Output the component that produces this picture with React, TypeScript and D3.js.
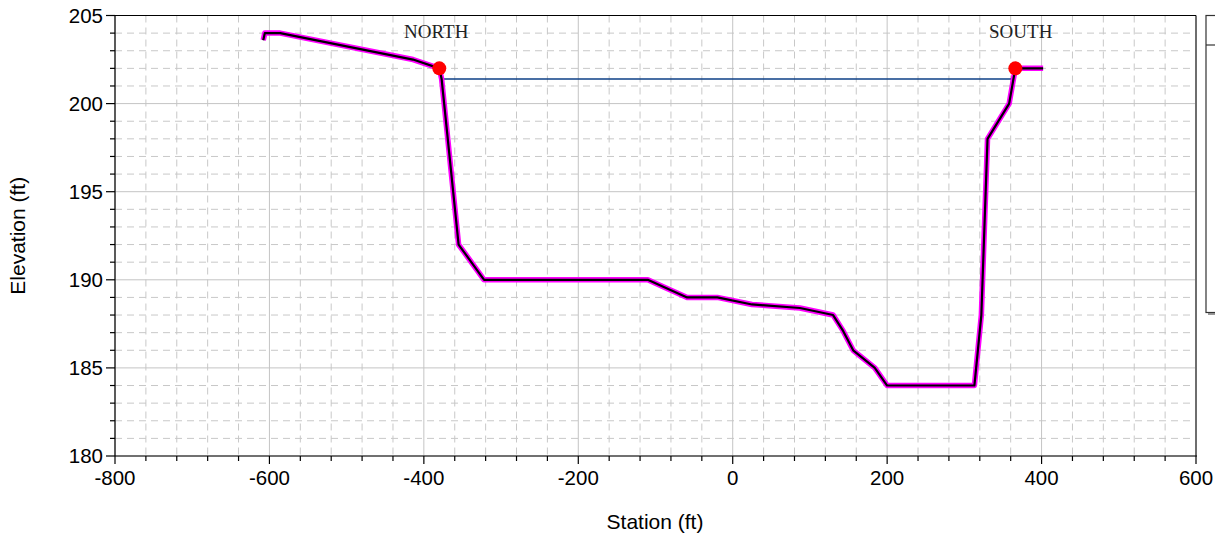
import React from "react";
import * as d3 from "d3";

const stations = [-608, -606, -586, -414, -380, -377, -355, -322, -110, -90, -59, -20, 25, 87, 130, 143, 156, 184, 200, 313, 322, 330, 358, 366, 402];
const elevations = [203.6, 204, 204, 202.5, 202, 201.4, 192, 190, 190, 189.6, 189, 189, 188.6, 188.4, 188, 187.1, 186, 185, 184, 184, 188, 198, 200, 202, 202];

const bankStations = [-380, 366];
const bankElevations = [202, 202];
const bankLabels = ["NORTH", "SOUTH"];
const labelStations = [-384, 373];
const labelElevation = 203.72;

const waterStations = [-378, 364];
const waterElevation = 201.4;

const xTicks = [-800, -600, -400, -200, 0, 200, 400, 600];
const yTicks = [180, 185, 190, 195, 200, 205];

const W = 1215, H = 533;
const L = 115, R = 1196, T = 15.5, B = 456;

export default function App() {
  const x = d3.scaleLinear().domain([-800, 600]).range([L, R]);
  const y = d3.scaleLinear().domain([180, 205]).range([B, T]);
  const xMinor = d3.range(-800, 601, 40).filter((v) => v % 200 !== 0);
  const yMinor = d3.range(180, 206, 1).filter((v) => v % 5 !== 0);
  const pts = stations.map((s, i) => [s, elevations[i]] as [number, number]);
  const line = d3.line<[number, number]>().x((d) => x(d[0])).y((d) => y(d[1]));
  const path = line(pts) || "";
  const font = "Liberation Sans, Arial, sans-serif";

  return (
    <svg width={W} height={H} style={{ position: "absolute", left: 0, top: 0, background: "#fff" }}>
      {/* minor grid */}
      <g stroke="#c8c8c8" strokeWidth={1} strokeDasharray="7,5">
        {xMinor.map((v) => (
          <line key={"xm" + v} x1={x(v)} x2={x(v)} y1={T} y2={B} />
        ))}
        {yMinor.map((v) => (
          <line key={"ym" + v} x1={L} x2={R} y1={y(v)} y2={y(v)} />
        ))}
      </g>
      {/* major grid */}
      <g stroke="#c4c4c4" strokeWidth={1}>
        {xTicks.map((v) => (
          <line key={"xg" + v} x1={x(v)} x2={x(v)} y1={T} y2={B} />
        ))}
        {yTicks.map((v) => (
          <line key={"yg" + v} x1={L} x2={R} y1={y(v)} y2={y(v)} />
        ))}
      </g>
      {/* borders */}
      <line x1={R} x2={R} y1={T} y2={B} stroke="#6e6e6e" strokeWidth={2} />
      <line x1={L} x2={R} y1={T} y2={T} stroke="#000" strokeWidth={1.2} />
      <line x1={L} x2={L} y1={T} y2={B} stroke="#000" strokeWidth={1.2} />
      <line x1={L} x2={R + 1} y1={B} y2={B} stroke="#000" strokeWidth={1.2} />
      {/* ticks */}
      <g stroke="#000" strokeWidth={1.2}>
        {xTicks.map((v) => (
          <line key={"xt" + v} x1={x(v)} x2={x(v)} y1={B} y2={B + 8} />
        ))}
        {xMinor.map((v) => (
          <line key={"xmt" + v} x1={x(v)} x2={x(v)} y1={B} y2={B + 5} />
        ))}
        {yTicks.map((v) => (
          <line key={"yt" + v} x1={L - 9} x2={L} y1={y(v)} y2={y(v)} />
        ))}
        {yMinor.map((v) => (
          <line key={"ymt" + v} x1={L - 5} x2={L} y1={y(v)} y2={y(v)} />
        ))}
      </g>
      {/* tick labels */}
      <g fontFamily={font} fontSize={20.5} fill="#000">
        {xTicks.map((v) => (
          <text key={"xl" + v} x={x(v)} y={B + 29} textAnchor="middle">
            {v}
          </text>
        ))}
        {yTicks.map((v) => (
          <text key={"yl" + v} x={L - 12} y={y(v) + 7} textAnchor="end">
            {v}
          </text>
        ))}
      </g>
      {/* axis titles */}
      <text x={655} y={529} textAnchor="middle" fontFamily={font} fontSize={21}>
        Station (ft)
      </text>
      <text
        transform={`translate(25, ${(T + B) / 2}) rotate(-90)`}
        textAnchor="middle"
        fontFamily={font}
        fontSize={21}
      >
        Elevation (ft)
      </text>
      {/* water surface */}
      <line
        x1={x(waterStations[0])}
        x2={x(waterStations[1])}
        y1={y(waterElevation)}
        y2={y(waterElevation)}
        stroke="#0d3f86"
        strokeWidth={1.4}
      />
      {/* profile */}
      <path d={path} fill="none" stroke="#ff00ff" strokeWidth={5.5} strokeLinejoin="round" />
      <path d={path} fill="none" stroke="#000" strokeWidth={2.2} strokeLinejoin="round" />
      {/* bank points */}
      {bankStations.map((s, i) => (
        <circle key={"b" + i} cx={x(s)} cy={y(bankElevations[i])} r={7} fill="#ff0000" />
      ))}
      {bankLabels.map((t, i) => (
        <text
          key={"bl" + i}
          x={x(labelStations[i])}
          y={y(labelElevation)}
          textAnchor="middle"
          fontFamily="Liberation Serif, Times New Roman, serif"
          fontSize={19}
          fill="#222"
        >
          {t}
        </text>
      ))}
      {/* legend box (clipped at right edge) */}
      <rect x={1208} y={17} width={30} height={298} fill="#999" />
      <rect x={1206} y={15.5} width={30} height={297} fill="#fff" stroke="#333" strokeWidth={1.2} />
      <line x1={1206} x2={1236} y1={45} y2={45} stroke="#333" strokeWidth={1.2} />
    </svg>
  );
}
